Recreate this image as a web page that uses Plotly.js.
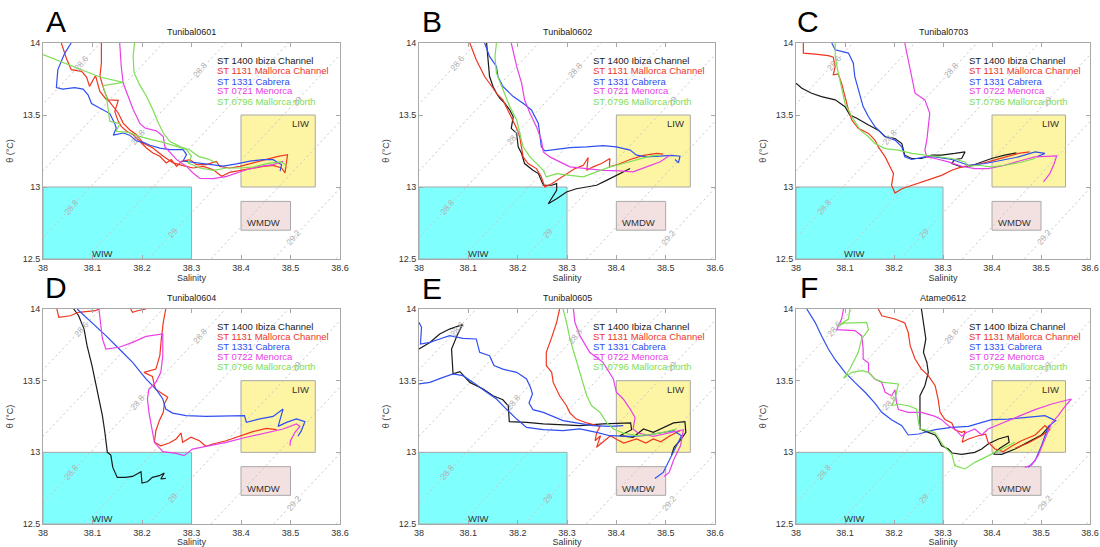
<!DOCTYPE html>
<html><head><meta charset="utf-8">
<script src="https://cdn.plot.ly/plotly-3.0.1.min.js"></script>
<style>html,body{margin:0;padding:0;background:#fff}#chart{width:1100px;height:547px}</style>
</head><body><div id="chart"></div><script>
// ---------- labels / categories ----------
const panelLetters = ['A','B','C','D','E','F'];
const cruiseTitles = ['Tunibal0601','Tunibal0602','Tunibal0703','Tunibal0604','Tunibal0605','Atame0612'];
const stationLabels = ['ST 1400 Ibiza Channel','ST 1131 Mallorca Channel','ST 1331 Cabrera','ST 0722 Menorca','ST 0796 Mallorca north'];
const menorcaLabels = ['ST 0721 Menorca','ST 0721 Menorca','ST 0722 Menorca','ST 0722 Menorca','ST 0722 Menorca','ST 0722 Menorca'];
const stationColors = ['#1a1a1a','#f0361f','#2f4ff2','#e840e8','#7ede55'];
const xTicks = [38,38.1,38.2,38.3,38.4,38.5,38.6];
const yTicks = [12.5,13,13.5,14];
// water mass boxes
const waterMassNames = ['WIW','LIW','WMDW'];
const wmSMin = [38.0,38.4,38.4], wmSMax = [38.3,38.55,38.5];
const wmTMin = [12.5,13.0,12.7], wmTMax = [13.0,13.5,12.9];
const wmLabelS = [38.12,38.52,38.445], wmLabelT = [12.54,13.44,12.75];
const wmFill = ['#80ffff','#fdf5a4','#f3e1e1'];
// isopycnals (sigma-theta), linearised
const densityLevels = [28.5,28.6,28.7,28.8,28.9,29.0,29.1,29.2,29.3];
const densityLabelLevels = [28.6,28.8,28.8,28.8,29.0,29.0,29.2];
const densityLabelText = ['28.6','28.8','28.8','28.8','29','29','29.2'];
const densityLabelT = [13.86,13.81,13.35,12.86,13.60,12.68,12.65];
const isoRefS = 38.014, isoRefT = 12.7, isoRefSigma = 28.8, isoDSigmaDS = 0.79, isoDTdS = 3.66;

// ---------- data: [salinity, potential temperature] ----------
// Panel A (Tunibal0601)
const A_ibiza = [];
const A_mallorcaCh = [[38.037,14.0],[38.047,13.896],[38.057,13.815],[38.078,13.803],[38.088,13.764],[38.094,13.699],[38.106,13.773],[38.115,13.664],[38.128,13.606],[38.145,13.606],[38.152,13.602],[38.145,13.525],[38.152,13.456],[38.158,13.421],[38.169,13.387],[38.182,13.363],[38.195,13.317],[38.209,13.271],[38.222,13.236],[38.236,13.213],[38.249,13.167],[38.259,13.19],[38.27,13.143],[38.28,13.178],[38.297,13.19],[38.31,13.155],[38.33,13.155],[38.35,13.178],[38.357,13.143],[38.377,13.132],[38.398,13.143],[38.425,13.167],[38.452,13.194],[38.475,13.213],[38.494,13.224],[38.492,13.155],[38.489,13.097],[38.482,13.132],[38.465,13.15],[38.445,13.143],[38.425,13.132],[38.398,13.116],[38.377,13.102],[38.361,13.074],[38.344,13.12],[38.324,13.143],[38.303,13.132],[38.283,13.148],[38.263,13.167],[38.243,13.213],[38.222,13.271],[38.202,13.306],[38.189,13.363],[38.175,13.398],[38.162,13.444],[38.152,13.514],[38.142,13.56],[38.131,13.606],[38.123,13.676],[38.115,13.769],[38.118,13.861],[38.118,14.0]];
const A_cabrera = [[38.057,14.0],[38.044,13.93],[38.03,13.815],[38.027,13.69],[38.04,13.68],[38.064,13.69],[38.081,13.68],[38.091,13.64],[38.098,13.58],[38.115,13.55],[38.135,13.51],[38.145,13.44],[38.148,13.41],[38.142,13.36],[38.162,13.375],[38.175,13.36],[38.189,13.32],[38.203,13.31],[38.216,13.29],[38.236,13.27],[38.256,13.26],[38.283,13.26],[38.29,13.225],[38.283,13.18],[38.31,13.17],[38.337,13.16],[38.364,13.145],[38.391,13.16],[38.418,13.18],[38.445,13.19],[38.465,13.19],[38.482,13.155],[38.479,13.11]];
const A_menorca = [[38.155,14.0],[38.158,13.84],[38.162,13.72],[38.172,13.63],[38.182,13.54],[38.196,13.44],[38.206,13.41],[38.229,13.39],[38.243,13.35],[38.246,13.28],[38.256,13.24],[38.27,13.19],[38.29,13.143],[38.303,13.097],[38.317,13.06],[38.344,13.058],[38.371,13.074],[38.391,13.097],[38.411,13.12],[38.438,13.143],[38.465,13.155],[38.485,13.178]];
const A_mallorcaN = [[38.0,13.919],[38.034,13.873],[38.074,13.815],[38.115,13.764],[38.162,13.727],[38.121,13.704],[38.128,13.63],[38.131,13.537],[38.135,13.456],[38.155,13.44],[38.148,13.387],[38.172,13.38],[38.195,13.352],[38.219,13.329],[38.243,13.31],[38.27,13.282],[38.29,13.259],[38.3,13.213],[38.293,13.167],[38.317,13.132],[38.344,13.116],[38.371,13.132],[38.398,13.132],[38.425,13.139],[38.452,13.162],[38.479,13.174],[38.491,13.155],[38.489,13.143],[null,null],[38.185,14.0],[38.182,13.907],[38.184,13.792],[38.195,13.711],[38.209,13.63],[38.222,13.537],[38.233,13.444],[38.243,13.375],[38.256,13.317],[38.276,13.282],[38.297,13.255],[38.314,13.213],[38.334,13.194],[38.35,13.167]];
// Panel B (Tunibal0602)
const B_ibiza = [[38.137,14.0],[38.14,13.884],[38.143,13.767],[38.15,13.698],[38.157,13.651],[38.164,13.616],[38.174,13.581],[38.184,13.535],[38.191,13.488],[38.187,13.407],[38.198,13.372],[38.201,13.279],[38.208,13.232],[38.214,13.163],[38.231,13.116],[38.242,13.093],[38.248,13.046],[38.252,13.012],[38.269,13.012],[38.279,13.023],[38.279,12.977],[38.265,12.907],[38.262,12.884],[38.279,12.918],[38.299,12.965],[38.319,12.988],[38.34,13.0],[38.36,13.012],[38.38,13.046],[38.4,13.081],[38.414,13.105],[38.428,13.128]];
const B_mallorcaCh = [[38.103,14.0],[38.116,13.884],[38.133,13.767],[38.147,13.698],[38.16,13.639],[38.17,13.605],[38.177,13.558],[38.187,13.488],[38.198,13.407],[38.204,13.349],[38.208,13.279],[38.211,13.209],[38.221,13.163],[38.238,13.128],[38.248,13.07],[38.255,13.0],[38.269,13.023],[38.285,13.058],[38.302,13.093],[38.316,13.128],[38.333,13.151],[38.343,13.205],[38.34,13.116],[38.353,13.14],[38.37,13.163],[38.387,13.198],[38.386,13.14],[38.404,13.158],[38.428,13.191],[38.455,13.219],[38.482,13.233],[38.495,13.228]];
const B_cabrera = [[38.133,14.0],[38.143,13.907],[38.157,13.837],[38.16,13.767],[38.17,13.698],[38.191,13.628],[38.211,13.581],[38.228,13.535],[38.242,13.442],[38.245,13.349],[38.248,13.279],[38.255,13.251],[38.279,13.263],[38.306,13.274],[38.34,13.279],[38.373,13.288],[38.4,13.279],[38.428,13.256],[38.441,13.221],[38.461,13.209],[38.488,13.214],[38.512,13.219],[38.529,13.214],[38.526,13.167],[38.519,13.191]];
const B_menorca = [[38.187,14.0],[38.198,13.837],[38.208,13.721],[38.214,13.605],[38.225,13.512],[38.238,13.419],[38.248,13.326],[38.252,13.244],[38.265,13.209],[38.279,13.186],[38.292,13.163],[38.306,13.14],[38.34,13.128],[38.373,13.116],[38.407,13.112],[38.434,13.105],[38.461,13.14],[38.488,13.174],[38.509,13.221]];
const B_mallorcaN = [[38.157,14.0],[38.154,13.907],[38.157,13.791],[38.17,13.674],[38.184,13.558],[38.198,13.465],[38.204,13.372],[38.211,13.279],[38.225,13.209],[38.238,13.163],[38.252,13.116],[38.258,13.07],[38.279,13.093],[38.306,13.081],[38.333,13.07],[38.36,13.105],[38.387,13.14],[38.414,13.163],[38.441,13.186],[38.468,13.214],[38.488,13.221]];
// Panel C (Tunibal0703)
const C_ibiza = [[38.0,13.721],[38.012,13.686],[38.032,13.651],[38.052,13.628],[38.08,13.605],[38.1,13.558],[38.11,13.5],[38.124,13.477],[38.148,13.43],[38.168,13.395],[38.182,13.349],[38.202,13.337],[38.216,13.302],[38.222,13.221],[38.236,13.198],[38.256,13.198],[38.277,13.221],[38.297,13.221],[38.324,13.233],[38.345,13.244],[38.338,13.198],[38.324,13.191],[38.318,13.163],[38.338,13.14],[38.355,13.144],[38.372,13.163],[38.399,13.198],[38.426,13.221],[38.45,13.237]];
const C_mallorcaCh = [[38.015,14.0],[38.015,13.93],[38.039,13.923],[38.066,13.912],[38.076,13.902],[38.08,13.837],[38.076,13.779],[38.086,13.786],[38.093,13.721],[38.1,13.628],[38.107,13.535],[38.114,13.465],[38.127,13.407],[38.148,13.372],[38.161,13.326],[38.168,13.279],[38.182,13.209],[38.192,13.14],[38.199,13.093],[38.195,13.012],[38.202,12.958],[38.216,12.988],[38.236,13.012],[38.256,13.035],[38.277,13.058],[38.297,13.081],[38.318,13.116],[38.338,13.14],[38.358,13.151],[38.379,13.163],[38.399,13.181],[38.426,13.209],[38.454,13.233],[38.477,13.244]];
const C_cabrera = [[38.073,14.0],[38.08,13.953],[38.107,13.93],[38.117,13.86],[38.12,13.767],[38.131,13.639],[38.137,13.558],[38.148,13.488],[38.161,13.419],[38.182,13.349],[38.202,13.326],[38.216,13.279],[38.222,13.209],[38.236,13.191],[38.263,13.209],[38.284,13.209],[38.318,13.191],[38.352,13.151],[38.386,13.163],[38.42,13.186],[38.454,13.209],[38.488,13.244],[38.508,13.233],[38.491,13.209]];
const C_menorca = [[38.222,14.0],[38.229,13.884],[38.236,13.767],[38.243,13.651],[38.263,13.605],[38.273,13.512],[38.27,13.419],[38.267,13.326],[38.263,13.256],[38.267,13.209],[38.284,13.198],[38.311,13.174],[38.338,13.144],[38.365,13.128],[38.392,13.128],[38.42,13.146],[38.454,13.179],[38.488,13.209],[38.532,13.216],[38.527,13.163],[38.518,13.093],[38.505,13.035]];
const C_mallorcaN = [[38.08,14.0],[38.08,13.907],[38.085,13.814],[38.092,13.698],[38.1,13.581],[38.114,13.488],[38.131,13.395],[38.148,13.349],[38.161,13.302],[38.182,13.267],[38.209,13.256],[38.236,13.233],[38.263,13.221],[38.29,13.209],[38.318,13.198],[38.345,13.174],[38.352,13.144],[38.372,13.151],[38.399,13.14],[38.426,13.151],[38.457,13.17],[38.488,13.198]];
// Panel D (Tunibal0604)
const D_ibiza = [[38.062,14.0],[38.072,13.953],[38.083,13.86],[38.089,13.744],[38.099,13.605],[38.106,13.488],[38.113,13.372],[38.12,13.256],[38.125,13.14],[38.13,13.0],[38.137,12.981],[38.141,12.895],[38.15,12.825],[38.167,12.825],[38.181,12.832],[38.193,12.856],[38.198,12.865],[38.2,12.786],[38.211,12.795],[38.221,12.825],[38.235,12.837],[38.245,12.856],[38.238,12.814],[38.248,12.818]];
const D_mallorcaCh = [[38.028,14.0],[38.032,13.942],[38.055,13.953],[38.072,13.977],[38.106,13.988],[38.113,14.0],[null,null],[38.177,14.0],[38.181,13.977],[38.191,13.988],[38.208,14.0],[null,null],[38.248,14.0],[38.243,13.907],[38.239,13.791],[38.236,13.674],[38.228,13.581],[38.204,13.558],[38.221,13.53],[38.227,13.442],[38.242,13.407],[38.252,13.384],[38.245,13.337],[38.243,13.279],[38.235,13.221],[38.228,13.151],[38.225,13.07],[38.238,13.046],[38.255,13.065],[38.269,13.093],[38.279,13.135],[38.282,13.07],[38.299,13.105],[38.316,13.081],[38.329,13.042],[38.343,13.058],[38.37,13.081],[38.397,13.112],[38.424,13.144],[38.451,13.167],[38.472,13.158]];
const D_cabrera = [[38.069,14.0],[38.099,13.907],[38.127,13.814],[38.154,13.721],[38.181,13.628],[38.208,13.512],[38.228,13.442],[38.242,13.372],[38.248,13.302],[38.262,13.274],[38.289,13.256],[38.329,13.251],[38.37,13.251],[38.407,13.256],[38.411,13.209],[38.438,13.233],[38.465,13.251],[38.485,13.302],[38.475,13.181],[38.492,13.209],[38.512,13.233],[38.529,13.214],[38.522,13.151],[38.515,13.112]];
const D_menorca = [[38.113,14.0],[38.116,13.907],[38.12,13.791],[38.127,13.721],[38.154,13.733],[38.181,13.767],[38.208,13.809],[38.242,13.826],[38.242,13.674],[38.238,13.558],[38.228,13.488],[38.214,13.442],[38.211,13.372],[38.214,13.279],[38.218,13.209],[38.221,13.14],[38.225,13.07],[38.242,13.005],[38.269,12.993],[38.285,12.977],[38.302,13.023],[38.329,13.042],[38.37,13.07],[38.411,13.105],[38.451,13.135],[38.485,13.163],[38.512,13.198],[38.519,13.181],[38.509,13.14],[38.5,13.081],[38.499,13.046]];
const D_mallorcaN = [];
// Panel E (Tunibal0605)
const E_ibiza = [[38.0,13.721],[38.022,13.767],[38.042,13.826],[38.062,13.86],[38.088,13.891],[38.077,13.814],[38.066,13.721],[38.068,13.628],[38.069,13.547],[38.083,13.563],[38.103,13.488],[38.13,13.442],[38.15,13.395],[38.17,13.367],[38.181,13.325],[38.183,13.214],[38.218,13.209],[38.252,13.198],[38.285,13.191],[38.326,13.186],[38.373,13.198],[38.429,13.205],[38.431,13.158],[38.407,13.116],[38.434,13.105],[38.455,13.163],[38.475,13.139],[38.495,13.174],[38.516,13.205],[38.539,13.214],[38.541,13.139],[38.529,13.081],[38.517,13.035],[38.512,12.981]];
const E_mallorcaCh = [[38.285,14.0],[38.279,13.907],[38.269,13.802],[38.258,13.698],[38.258,13.605],[38.269,13.558],[38.272,13.488],[38.285,13.395],[38.299,13.325],[38.306,13.274],[38.319,13.232],[38.34,13.205],[38.367,13.181],[38.36,13.135],[38.357,13.081],[38.368,13.116],[38.36,13.035],[38.373,13.07],[38.388,13.116],[38.402,13.088],[38.415,13.065],[38.441,13.093],[38.46,13.065],[38.475,13.093],[38.49,13.074],[38.509,13.116],[38.529,13.151]];
const E_cabrera = [[38.0,13.907],[38.005,13.872],[38.003,13.756],[38.022,13.767],[38.042,13.791],[38.062,13.814],[38.089,13.795],[38.116,13.791],[38.123,13.698],[38.143,13.674],[38.152,13.605],[38.17,13.581],[38.198,13.558],[38.218,13.512],[38.226,13.453],[38.23,13.407],[38.223,13.344],[38.231,13.298],[38.252,13.279],[38.272,13.251],[38.292,13.221],[38.319,13.205],[38.353,13.186],[38.387,13.181],[38.414,13.186],[null,null],[38.0,13.477],[38.022,13.488],[38.049,13.523],[38.069,13.547],[38.089,13.535],[38.11,13.488],[38.13,13.437],[38.157,13.372],[38.177,13.302],[38.198,13.232],[38.218,13.174],[38.252,13.158],[38.292,13.151],[38.326,13.163],[38.36,13.139],[38.387,13.116],[38.428,13.112],[38.455,13.116],[38.488,13.135],[38.516,13.151],[38.532,13.116],[38.522,13.046],[38.509,12.953],[38.495,12.86],[38.478,12.818]];
const E_menorca = [[38.313,14.0],[38.316,13.907],[38.326,13.814],[38.346,13.698],[38.373,13.628],[38.394,13.512],[38.4,13.419],[38.414,13.372],[38.428,13.302],[38.438,13.244],[38.434,13.163],[38.444,13.135],[38.475,13.112],[38.509,13.135],[38.536,13.158],[38.53,13.046],[38.517,12.953],[38.507,12.86],[38.497,12.832]];
const E_mallorcaN = [[38.292,14.0],[38.299,13.907],[38.306,13.791],[38.316,13.674],[38.326,13.558],[38.333,13.465],[38.34,13.395],[38.35,13.325],[38.367,13.279],[38.38,13.209],[38.394,13.163],[38.414,13.135],[38.441,13.116],[38.468,13.123],[38.495,13.139],[38.522,13.163]];
// Panel F (Atame0612)
const F_ibiza = [[38.256,14.0],[38.26,13.907],[38.265,13.791],[38.26,13.698],[38.267,13.628],[38.27,13.558],[38.263,13.465],[38.253,13.395],[38.253,13.279],[38.253,13.163],[38.27,13.139],[38.284,13.121],[38.29,13.093],[38.297,13.046],[38.311,13.023],[38.319,12.995],[38.338,12.986],[38.365,13.0],[38.379,13.023],[38.392,13.058],[38.413,13.093],[38.433,13.112],[38.435,13.07],[38.416,13.028],[38.403,12.988],[38.42,12.986],[38.447,13.023],[38.474,13.07],[38.501,13.121],[38.518,13.186]];
const F_mallorcaCh = [[38.168,14.0],[38.175,13.953],[38.202,13.93],[38.222,13.902],[38.229,13.837],[38.233,13.744],[38.243,13.651],[38.256,13.581],[38.27,13.535],[38.284,13.465],[38.29,13.372],[38.294,13.279],[38.304,13.228],[38.318,13.205],[38.324,13.158],[38.338,13.139],[38.345,13.149],[38.339,13.07],[38.352,13.093],[38.372,13.116],[38.387,13.126],[38.392,13.07],[38.406,13.023],[38.423,13.005],[38.44,13.042],[38.46,13.081],[38.488,13.121],[38.508,13.186],[38.518,13.158],[38.501,13.116],[38.474,13.065],[38.447,13.028]];
const F_cabrera = [[38.022,14.0],[38.039,13.907],[38.052,13.814],[38.066,13.721],[38.08,13.646],[38.1,13.558],[38.12,13.488],[38.141,13.419],[38.161,13.344],[38.175,13.279],[38.195,13.228],[38.216,13.186],[38.229,13.121],[38.25,13.128],[38.284,13.158],[38.318,13.174],[38.352,13.181],[38.379,13.205],[38.399,13.228],[38.433,13.232],[38.474,13.244],[38.508,13.256],[38.53,13.221],[38.515,13.181],[38.501,13.046],[38.488,12.942],[38.474,12.895]];
const F_menorca = [[38.097,14.0],[38.093,13.93],[38.083,13.856],[38.12,13.849],[38.134,13.814],[38.137,13.721],[38.137,13.651],[38.148,13.623],[38.148,13.558],[38.161,13.512],[38.175,13.488],[38.182,13.419],[38.195,13.395],[38.202,13.437],[38.205,13.349],[38.209,13.298],[38.229,13.279],[38.256,13.279],[38.284,13.251],[38.297,13.228],[38.311,13.186],[38.326,13.158],[38.338,13.112],[38.348,13.139],[38.365,13.163],[38.379,13.121],[38.392,13.163],[38.42,13.205],[38.454,13.251],[38.488,13.298],[38.522,13.337],[38.562,13.372],[38.549,13.321],[38.535,13.256],[38.522,13.205],[38.508,13.093],[38.494,12.977],[38.481,12.912],[38.467,12.895]];
const F_mallorcaN = [[38.11,14.0],[38.107,13.93],[38.086,13.884],[38.1,13.902],[38.144,13.907],[38.148,13.856],[38.134,13.791],[38.127,13.698],[38.11,13.581],[38.097,13.516],[38.114,13.558],[38.134,13.57],[38.148,13.558],[38.161,13.512],[38.178,13.488],[38.209,13.477],[38.205,13.419],[38.202,13.372],[38.195,13.325],[38.209,13.337],[38.229,13.325],[38.246,13.302],[38.25,13.209],[38.253,13.163],[38.27,13.151],[38.284,13.135],[38.292,13.093],[38.301,13.046],[38.318,12.988],[38.324,12.907],[38.345,12.884],[38.365,12.93],[38.386,12.965],[38.406,13.0],[38.426,13.035],[38.447,13.07]];

const panelCurves = [
  [A_ibiza, A_mallorcaCh, A_cabrera, A_menorca, A_mallorcaN],
  [B_ibiza, B_mallorcaCh, B_cabrera, B_menorca, B_mallorcaN],
  [C_ibiza, C_mallorcaCh, C_cabrera, C_menorca, C_mallorcaN],
  [D_ibiza, D_mallorcaCh, D_cabrera, D_menorca, D_mallorcaN],
  [E_ibiza, E_mallorcaCh, E_cabrera, E_menorca, E_mallorcaN],
  [F_ibiza, F_mallorcaCh, F_cabrera, F_menorca, F_mallorcaN]
];

// ---------- layout geometry ----------
const W = 1100, H = 547;
const colPx = [[43,340],[419,715],[796,1090]];
const rowPx = [[43,259],[309,524]];
const titleRowPx = [32,298];
const letterPx = [[56,21],[432,21],[808,21],[56,287],[432,288],[809,287]];
const FONT = '"Liberation Sans", Arial, Helvetica, sans-serif';

const traces = [], shapes = [], annotations = [];
const layout = {
  width: W, height: H, margin: {l:0,r:0,t:0,b:0},
  paper_bgcolor: '#ffffff', plot_bgcolor: '#ffffff',
  showlegend: false, hovermode: false,
  font: {family: FONT, size: 9, color: '#222'}
};

panelCurves.forEach((curves, p) => {
  const col = p % 3, row = Math.floor(p / 3);
  const suffix = p === 0 ? '' : String(p + 1);
  const xa = 'x' + suffix, ya = 'y' + suffix;
  const xDom = [colPx[col][0] / W, colPx[col][1] / W];
  const yDom = [1 - rowPx[row][1] / H, 1 - rowPx[row][0] / H];
  const axCommon = {
    showline: true, mirror: 'ticks', linecolor: '#a8a8a8', linewidth: 1,
    ticks: 'inside', ticklen: 4, tickcolor: '#a8a8a8', tickwidth: 1,
    showgrid: false, zeroline: false, automargin: false,
    tickfont: {family: FONT, size: 9, color: '#333'}
  };
  layout['xaxis' + suffix] = Object.assign({}, axCommon, {
    domain: xDom, range: [38, 38.6], anchor: ya, tickvals: xTicks,
    ticktext: xTicks.map(v => String(v)),
    title: {text: 'Salinity', font: {family: FONT, size: 9, color: '#333'}, standoff: 0}
  });
  layout['yaxis' + suffix] = Object.assign({}, axCommon, {
    domain: yDom, range: [12.5, 14], anchor: xa, tickvals: yTicks,
    ticktext: yTicks.map(v => String(v)),
    title: {text: 'θ (°C)', font: {family: FONT, size: 9, color: '#333'}, standoff: 7}
  });

  // water mass boxes
  waterMassNames.forEach((nm, i) => {
    shapes.push({type: 'rect', xref: xa, yref: ya, x0: wmSMin[i], x1: wmSMax[i], y0: wmTMin[i], y1: wmTMax[i],
      fillcolor: wmFill[i], line: {color: '#a8a8a8', width: 1}, layer: 'below'});
    annotations.push({xref: xa, yref: ya, x: wmLabelS[i], y: wmLabelT[i], text: nm, showarrow: false,
      font: {family: FONT, size: 9.5, color: '#333'}, xanchor: 'center', yanchor: 'middle'});
  });

  // isopycnals
  densityLevels.forEach(L => {
    const s0 = isoRefS + (L - isoRefSigma) / isoDSigmaDS;
    traces.push({type: 'scatter', mode: 'lines', xaxis: xa, yaxis: ya,
      x: [s0 + (12.4 - isoRefT) / isoDTdS, s0 + (14.1 - isoRefT) / isoDTdS], y: [12.4, 14.1],
      line: {color: '#c6c6c6', width: 1, dash: '2px,3px'}, hoverinfo: 'skip'});
  });
  densityLabelLevels.forEach((L, i) => {
    const s0 = isoRefS + (L - isoRefSigma) / isoDSigmaDS;
    const tt = densityLabelT[i];
    annotations.push({xref: xa, yref: ya, x: s0 + (tt - isoRefT) / isoDTdS, y: tt, text: densityLabelText[i],
      showarrow: false, textangle: -50, font: {family: FONT, size: 8.5, color: '#b0b0b0'}});
  });

  // station profiles
  curves.forEach((c, i) => {
    if (!c.length) return;
    traces.push({type: 'scatter', mode: 'lines', xaxis: xa, yaxis: ya,
      x: c.map(d => d[0]), y: c.map(d => d[1]), connectgaps: false,
      line: {color: stationColors[i], width: 1.2}});
  });

  // legend text
  const labels = stationLabels.slice();
  labels[3] = menorcaLabels[p];
  const legendT = [13.875, 13.806, 13.736, 13.667, 13.597];
  labels.forEach((lab, i) => {
    annotations.push({xref: xa, yref: ya, x: 38.348, y: legendT[i], text: lab, showarrow: false,
      xanchor: 'left', yanchor: 'middle', font: {family: FONT, size: 9.5, color: stationColors[i]}});
  });

  // subplot title
  annotations.push({xref: 'paper', yref: 'paper', x: (xDom[0] + xDom[1]) / 2, y: 1 - titleRowPx[row] / H,
    text: cruiseTitles[p], showarrow: false, xanchor: 'center', yanchor: 'middle',
    font: {family: FONT, size: 9, color: '#222'}});
  // panel letter
  annotations.push({xref: 'paper', yref: 'paper', x: letterPx[p][0] / W, y: 1 - letterPx[p][1] / H,
    text: panelLetters[p], showarrow: false, xanchor: 'center', yanchor: 'middle',
    font: {family: FONT, size: 30, color: '#000'}});
});

layout.shapes = shapes;
layout.annotations = annotations;
Plotly.newPlot('chart', traces, layout, {displayModeBar: false, staticPlot: true});
</script></body></html>
